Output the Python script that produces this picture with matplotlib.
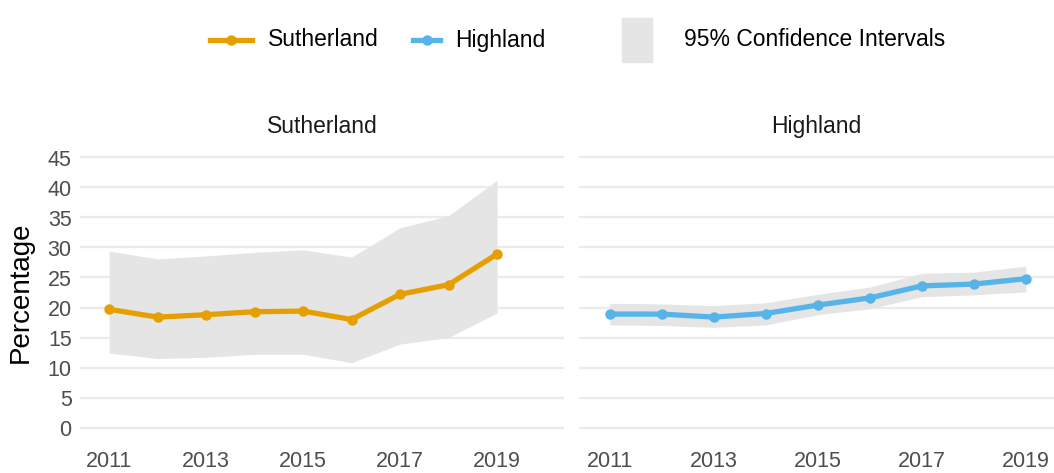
import matplotlib.pyplot as plt
from matplotlib.lines import Line2D
from matplotlib.patches import Rectangle

plt.rcParams["font.family"] = ["Liberation Sans", "DejaVu Sans"]

# Data
years = [2011, 2012, 2013, 2014, 2015, 2016, 2017, 2018, 2019]

suth_value = [19.7, 18.4, 18.8, 19.3, 19.4, 18.0, 22.2, 23.8, 28.9]
suth_upper = [29.4, 28.1, 28.6, 29.2, 29.6, 28.4, 33.3, 35.3, 41.2]
suth_lower = [12.4, 11.5, 11.7, 12.2, 12.2, 10.8, 13.9, 15.0, 19.1]

high_value = [18.9, 18.9, 18.4, 19.0, 20.4, 21.6, 23.6, 23.9, 24.8]
high_upper = [20.7, 20.6, 20.3, 20.8, 22.2, 23.4, 25.7, 25.9, 26.9]
high_lower = [17.1, 17.0, 16.7, 17.1, 18.8, 19.8, 21.8, 22.1, 22.6]

y_ticks = [0, 5, 10, 15, 20, 25, 30, 35, 40, 45]
x_ticks = [2011, 2013, 2015, 2017, 2019]

ORANGE = "#E69F00"
BLUE = "#56B4E9"
RIBBON = "#E5E5E5"
GRID = "#EBEBEB"
TICK = "#4D4D4D"

W, H = 1054, 473
fig = plt.figure(figsize=(W / 100, H / 100), dpi=100)


def px_box(x0, x1, y_top, y_bot):
    return [x0 / W, 1 - y_bot / H, (x1 - x0) / W, (y_bot - y_top) / H]


ax_l = fig.add_axes(px_box(80, 564, 144, 441))
ax_r = fig.add_axes(px_box(579, 1054, 144, 441))

panels = [
    (ax_l, "Sutherland", suth_value, suth_lower, suth_upper, ORANGE, (2010.4, 2020.38)),
    (ax_r, "Highland", high_value, high_lower, high_upper, BLUE, (2010.41, 2019.54)),
]

for ax, title, vals, lo, hi, col, xlim in panels:
    ax.fill_between(years, lo, hi, color=RIBBON, linewidth=0, zorder=1)
    ax.plot(years, vals, color=col, linewidth=3.8, marker="o", markersize=6.5,
            solid_capstyle="round", zorder=3)
    ax.set_xlim(*xlim)
    ax.set_ylim(-2.25, 47.25)
    ax.set_yticks(y_ticks)
    ax.set_xticks(x_ticks)
    ax.grid(axis="y", color=GRID, linewidth=1.6, zorder=0)
    ax.set_axisbelow(True)
    for s in ax.spines.values():
        s.set_visible(False)
    ax.tick_params(length=0, labelsize=15.5, labelcolor=TICK)
    ax.tick_params(axis="x", pad=7)
    ax.tick_params(axis="y", pad=6)
    ax.set_title(title, fontsize=16.5, color="#1A1A1A", pad=8)

ax_r.tick_params(axis="y", labelleft=False)
ax_l.set_ylabel("Percentage", fontsize=20, color="black", labelpad=10)

# Legend drawn at the top of the figure
ly = 1 - 40 / H
fig.add_artist(Line2D([210 / W, 252 / W], [ly, ly], color=ORANGE, linewidth=3.8,
                      transform=fig.transFigure))
fig.add_artist(Line2D([231 / W], [ly], color=ORANGE, marker="o", markersize=6.5,
                      transform=fig.transFigure))
fig.text(268 / W, ly, "Sutherland", fontsize=16.5, va="center", ha="left")
fig.add_artist(Line2D([413 / W, 440 / W], [ly, ly], color=BLUE, linewidth=3.8,
                      transform=fig.transFigure))
fig.add_artist(Line2D([427 / W], [ly], color=BLUE, marker="o", markersize=6.5,
                      transform=fig.transFigure))
fig.text(455 / W, ly, "Highland", fontsize=16.5, va="center", ha="left")
fig.add_artist(Rectangle((622 / W, 1 - 62 / H), 30 / W, 44 / H, color=RIBBON,
                         transform=fig.transFigure))
fig.text(684 / W, ly, "95% Confidence Intervals", fontsize=16.5, va="center", ha="left")

fig.savefig("out.png", dpi=100)
